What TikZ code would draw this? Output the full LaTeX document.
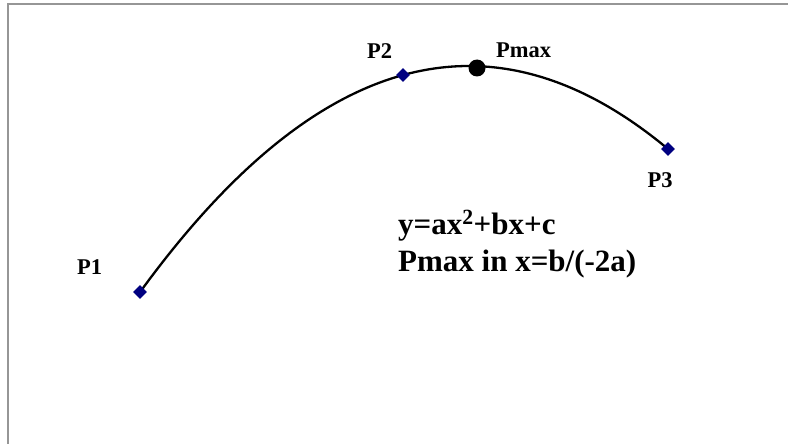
\documentclass[tikz,border=0pt]{standalone}
\usepackage{fontspec}
\setmainfont{Liberation Serif}
\usetikzlibrary{shapes.geometric}
\tikzset{
  pt/.style={draw=none, fill={rgb,255:red,0;green,0;blue,128}, diamond, minimum size=14pt, inner sep=0pt},
  maxpt/.style={circle, fill=black, minimum size=17pt, inner sep=0pt},
  lbl/.style={font=\bfseries\fontsize{22.5}{26}\selectfont, inner sep=0pt},
  eq/.style={font=\bfseries\fontsize{31}{36}\selectfont, inner sep=0pt, anchor=base west},
  frame/.style={draw={rgb,255:red,150;green,150;blue,150}, line width=2.2pt}
}
\begin{document}
\begin{tikzpicture}[x=1pt,y=-1pt]
\useasboundingbox (0,0) rectangle (788,444);
\fill[white] (0,0) rectangle (788,444);
\coordinate (tl) at (7.8,3.8);
\coordinate (tr) at (788,3.8);
\coordinate (bl) at (7.8,444);
\draw[frame] (tr) -- (tl) -- (bl);
\draw[line width=2.3pt, line cap=round] plot[domain=140:668, samples=120] (\x, {20.915*((\x-468.8)/100)^2+66});
\node[pt] (P1) at (140,292) {};
\node[pt] (P2) at (403,75) {};
\node[pt] (P3) at (668,149) {};
\node[maxpt] (Pmax) at (477,68) {};
\node[lbl] (l1) at (89.5,267) {P1};
\node[lbl] (l2) at (379.5,51) {P2};
\node[lbl] (l3) at (660,180) {P3};
\node[lbl] (lm) at (523.5,50) {Pmax};
\node[eq] (e1) at (398,234) {y=ax\textsuperscript{2}+bx+c};
\node[eq] (e2) at (398,271) {Pmax in x=b/(-2a)};
\end{tikzpicture}
\end{document}
